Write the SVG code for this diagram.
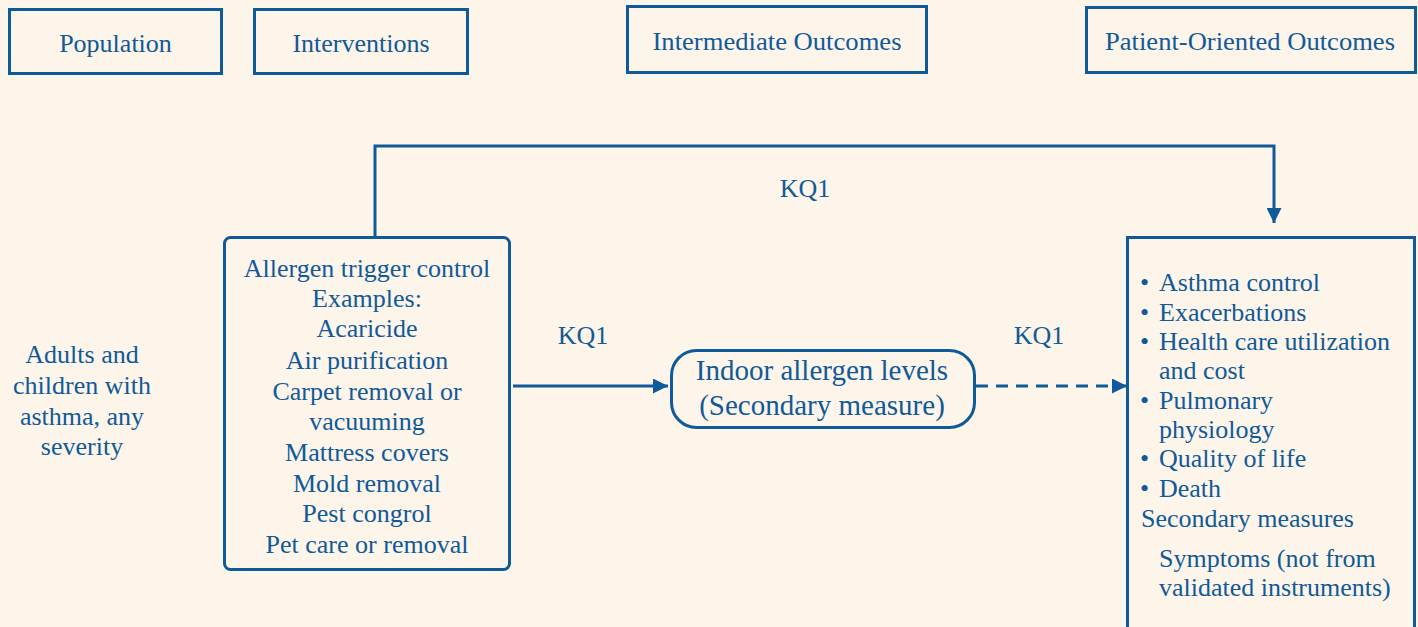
<svg xmlns="http://www.w3.org/2000/svg" width="1418" height="627" viewBox="0 0 1418 627">
<style>
text{font-family:"Liberation Serif","Times New Roman",serif;font-size:26px;fill:#105A98}
.c{text-anchor:middle}
.big{font-size:29px}
.box{fill:none;stroke:#0E5A9A;stroke-width:3}
.ln{fill:none;stroke:#0E5A9A;stroke-width:3}
</style>
<defs>
<marker id="ah" viewBox="0 0 10 10" refX="10" refY="5" markerWidth="19" markerHeight="15" markerUnits="userSpaceOnUse" orient="auto">
<path d="M0,0 L10,5 L0,10 Z" fill="#0E5A9A"/>
</marker>
</defs>
<rect width="1418" height="627" fill="#FDF4EA"/>
<g id="hdr-population"><rect class="box" x="9.5" y="9.5" width="212" height="64"/><text class="c" x="115.5" y="52">Population</text></g>
<g id="hdr-interventions"><rect class="box" x="254.5" y="9.5" width="213" height="64"/><text class="c" x="361" y="52">Interventions</text></g>
<g id="hdr-intermediate"><rect class="box" x="627.5" y="6.5" width="299" height="66"/><text class="c" x="777" y="50" textLength="249" lengthAdjust="spacingAndGlyphs">Intermediate Outcomes</text></g>
<g id="hdr-patient"><rect class="box" x="1086.5" y="7.5" width="329" height="65"/><text class="c" x="1250" y="50" textLength="290" lengthAdjust="spacingAndGlyphs">Patient-Oriented Outcomes</text></g>
<g id="population">
<text class="c" x="82" y="363">Adults and</text>
<text class="c" x="82" y="394">children with</text>
<text class="c" x="82" y="425">asthma, any</text>
<text class="c" x="82" y="455">severity</text>
</g>
<g id="interventions">
<rect class="box" x="224.5" y="237.5" width="285" height="332" rx="6"/>
<text class="c" x="367" y="277">Allergen trigger control</text>
<text class="c" x="367" y="307">Examples:</text>
<text class="c" x="367" y="337">Acaricide</text>
<text class="c" x="367" y="369">Air purification</text>
<text class="c" x="367" y="400">Carpet removal or</text>
<text class="c" x="367" y="430">vacuuming</text>
<text class="c" x="367" y="461">Mattress covers</text>
<text class="c" x="367" y="492">Mold removal</text>
<text class="c" x="367" y="522">Pest congrol</text>
<text class="c" x="367" y="553">Pet care or removal</text>
</g>
<g id="intermediate">
<rect class="box" x="671.5" y="350.5" width="303" height="77" rx="25"/>
<text class="c big" x="822" y="380">Indoor allergen levels</text>
<text class="c big" x="822" y="415">(Secondary measure)</text>
</g>
<g id="outcomes">
<rect class="box" x="1127.5" y="237.5" width="287" height="400"/>
<text x="1140" y="291">•</text><text x="1159" y="291">Asthma control</text>
<text x="1140" y="321">•</text><text x="1159" y="321">Exacerbations</text>
<text x="1140" y="350">•</text><text x="1159" y="350">Health care utilization</text>
<text x="1159" y="379">and cost</text>
<text x="1140" y="409">•</text><text x="1159" y="409">Pulmonary</text>
<text x="1159" y="438">physiology</text>
<text x="1140" y="467">•</text><text x="1159" y="467">Quality of life</text>
<text x="1140" y="497">•</text><text x="1159" y="497">Death</text>
<text x="1141" y="527">Secondary measures</text>
<text x="1159" y="567">Symptoms (not from</text>
<text x="1159" y="596">validated instruments)</text>
</g>
<g id="connectors">
<path class="ln" d="M375,236 V146 H1274 V223" marker-end="url(#ah)"/>
<text class="c" x="805" y="197">KQ1</text>
<path class="ln" d="M513,386 H668" marker-end="url(#ah)"/>
<text class="c" x="583" y="344">KQ1</text>
<path class="ln" d="M976,386 H1127" stroke-dasharray="12 8" marker-end="url(#ah)"/>
<text class="c" x="1039" y="344">KQ1</text>
</g>
</svg>
